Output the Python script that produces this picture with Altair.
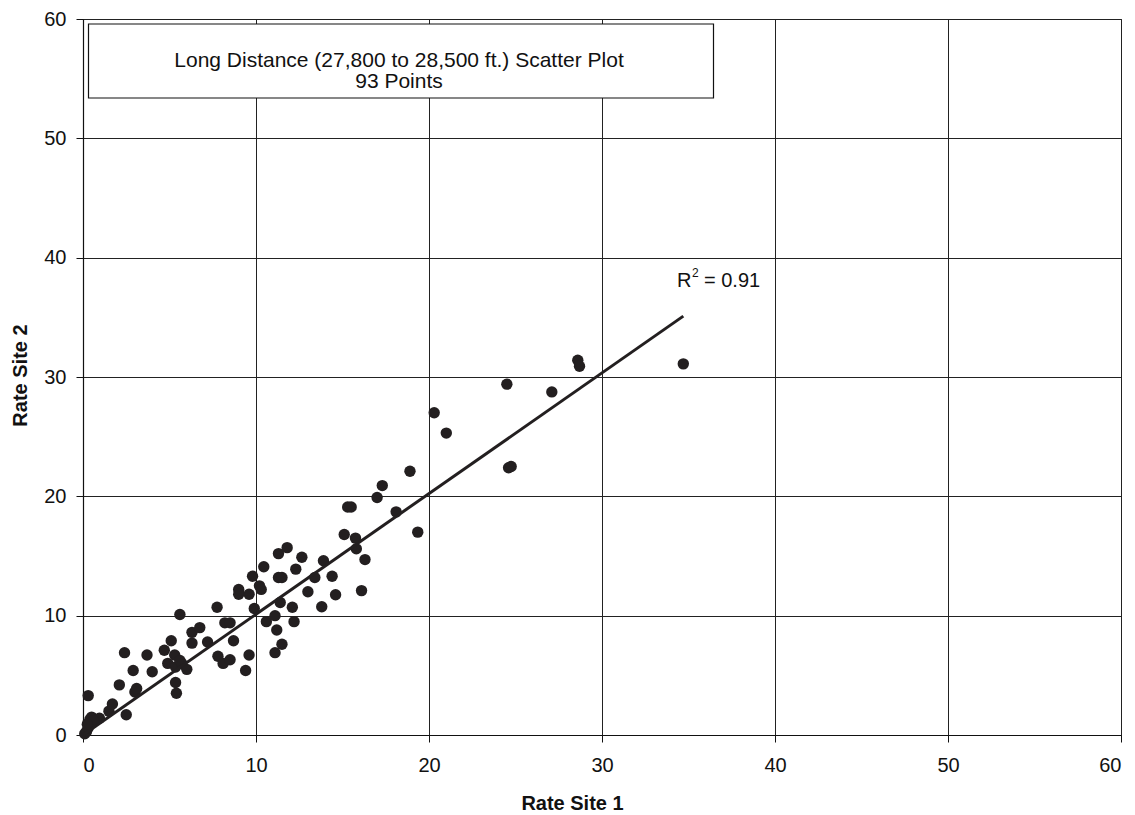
import altair as alt
import pandas as pd

# Scatter data
rate_site_1 = [0.1, 0.2, 0.3, 0.35, 0.4, 0.5, 0.3, 0.95, 1.5, 1.7,
               2.5, 2.1, 3.0, 3.1, 2.9, 2.4, 3.7, 4.0, 4.7, 4.9,
               5.1, 5.3, 5.35, 5.7, 6.0, 5.35, 5.4, 5.6, 5.6, 6.3,
               6.3, 6.75, 7.2, 7.75, 7.8, 8.1, 8.5, 8.2, 8.5, 8.7,
               9.0, 9.0, 9.6, 9.6, 9.4, 9.8, 9.9, 10.2, 10.3, 10.45,
               10.6, 11.1, 11.2, 11.5, 11.1, 11.3, 11.8, 11.3, 11.5, 11.4,
               12.1, 12.2, 12.3, 12.65, 13.0, 13.4, 13.8, 13.9, 14.4, 14.6,
               15.1, 15.3, 15.5, 15.75, 15.8, 16.3, 16.1, 17.0, 17.3, 18.1,
               18.9, 19.35, 20.3, 21.0, 24.5, 24.6, 24.75, 27.1, 28.6, 28.7,
               34.7, 0.6, 0.25]
rate_site_2 = [0.1, 0.3, 0.6, 1.0, 1.3, 1.5, 3.3, 1.4, 2.0, 2.6,
               1.7, 4.2, 3.6, 3.9, 5.4, 6.9, 6.7, 5.3, 7.1, 6.0,
               7.9, 6.7, 5.7, 6.0, 5.5, 4.4, 3.5, 6.25, 10.1, 7.7,
               8.6, 9.0, 7.8, 10.7, 6.6, 6.0, 6.3, 9.4, 9.4, 7.9,
               12.2, 11.8, 11.8, 6.7, 5.4, 13.3, 10.6, 12.5, 12.2, 14.1,
               9.5, 10.0, 8.8, 7.6, 6.9, 15.2, 15.7, 13.2, 13.2, 11.1,
               10.7, 9.5, 13.9, 14.9, 12.0, 13.2, 10.75, 14.6, 13.3, 11.75,
               16.8, 19.1, 19.1, 16.5, 15.6, 14.7, 12.1, 19.9, 20.9, 18.7,
               22.1, 17.0, 27.0, 25.3, 29.4, 22.4, 22.5, 28.75, 31.4, 30.9,
               31.1, 1.2, 0.9]

# Trend line end points
fit_x = [0.0, 34.7]
fit_y = [0.0, 35.1]

title_lines = ["Long Distance (27,800 to 28,500 ft.) Scatter Plot", "93 Points"]
r2_value = "= 0.91"

pts = pd.DataFrame({"x": rate_site_1, "y": rate_site_2})
fit = pd.DataFrame({"x": fit_x, "y": fit_y})

FONT = "Liberation Sans"
INK = "#231f20"
TXT = "#111111"

xscale = alt.Scale(domain=[0, 60], nice=False, zero=False)
yscale = alt.Scale(domain=[0, 60], nice=False, zero=False)

ticks = [0, 10, 20, 30, 40, 50, 60]
xaxis = alt.Axis(title="Rate Site 1", values=ticks, format="d",
                 grid=True, gridColor="#222222", gridWidth=1, tickSize=7,
                 labelPadding=13, titleX=489, titleY=68, titleAlign="center",
                 titleBaseline="middle")
yaxis = alt.Axis(title="Rate Site 2", values=ticks, format="d",
                 grid=True, gridColor="#222222", gridWidth=1, tickSize=7,
                 labelPadding=10, titleX=-63, titleY=356, titleAlign="center",
                 titleBaseline="middle", titleAngle=270)

points = alt.Chart(pts).mark_circle(size=130, color=INK, opacity=1).encode(
    x=alt.X("x:Q", scale=xscale, axis=xaxis),
    y=alt.Y("y:Q", scale=yscale, axis=yaxis),
)

line = alt.Chart(fit).mark_line(color=INK, strokeWidth=3).encode(
    x=alt.X("x:Q", scale=xscale),
    y=alt.Y("y:Q", scale=yscale),
)

box_df = pd.DataFrame({"t": [title_lines[0]], "t2": [title_lines[1]]})
box = alt.Chart(box_df).mark_rect(fill="white", stroke=TXT, strokeWidth=1.2).encode(
    x=alt.value(5.5), x2=alt.value(630.5), y=alt.value(5), y2=alt.value(79)
)
title1 = alt.Chart(box_df).mark_text(font=FONT, fontSize=21, color=TXT,
                                     align="center", baseline="middle").encode(
    x=alt.value(316), y=alt.value(42), text="t:N")
title2 = alt.Chart(box_df).mark_text(font=FONT, fontSize=21, color=TXT,
                                     align="center", baseline="middle").encode(
    x=alt.value(316), y=alt.value(63), text="t2:N")

r2_df = pd.DataFrame({"r": ["R"], "s": ["2"], "v": [r2_value]})
r_txt = alt.Chart(r2_df).mark_text(font=FONT, fontSize=20, color=TXT,
                                   align="left", baseline="middle").encode(
    x=alt.value(594), y=alt.value(262), text="r:N")
s_txt = alt.Chart(r2_df).mark_text(font=FONT, fontSize=12, color=TXT,
                                   align="left", baseline="middle").encode(
    x=alt.value(609), y=alt.value(254), text="s:N")
v_txt = alt.Chart(r2_df).mark_text(font=FONT, fontSize=20, color=TXT,
                                   align="left", baseline="middle").encode(
    x=alt.value(621), y=alt.value(262), text="v:N")

chart = alt.layer(points, line, box, title1, title2, r_txt, s_txt, v_txt).properties(
    width=1038, height=716,
    autosize=alt.AutoSizeParams(type="none"),
    padding={"left": 75, "top": 11, "right": 6, "bottom": 90},
    background="white",
).configure_view(
    stroke=TXT, strokeWidth=1
).configure_axis(
    domainColor=TXT, tickColor=TXT, domainWidth=1.2,
    labelFont=FONT, labelFontSize=20, labelColor=TXT,
    titleFont=FONT, titleFontSize=20, titleFontWeight="bold", titleColor=TXT,
)

chart.save("out.html", embed_options={"renderer": "svg", "actions": False})
